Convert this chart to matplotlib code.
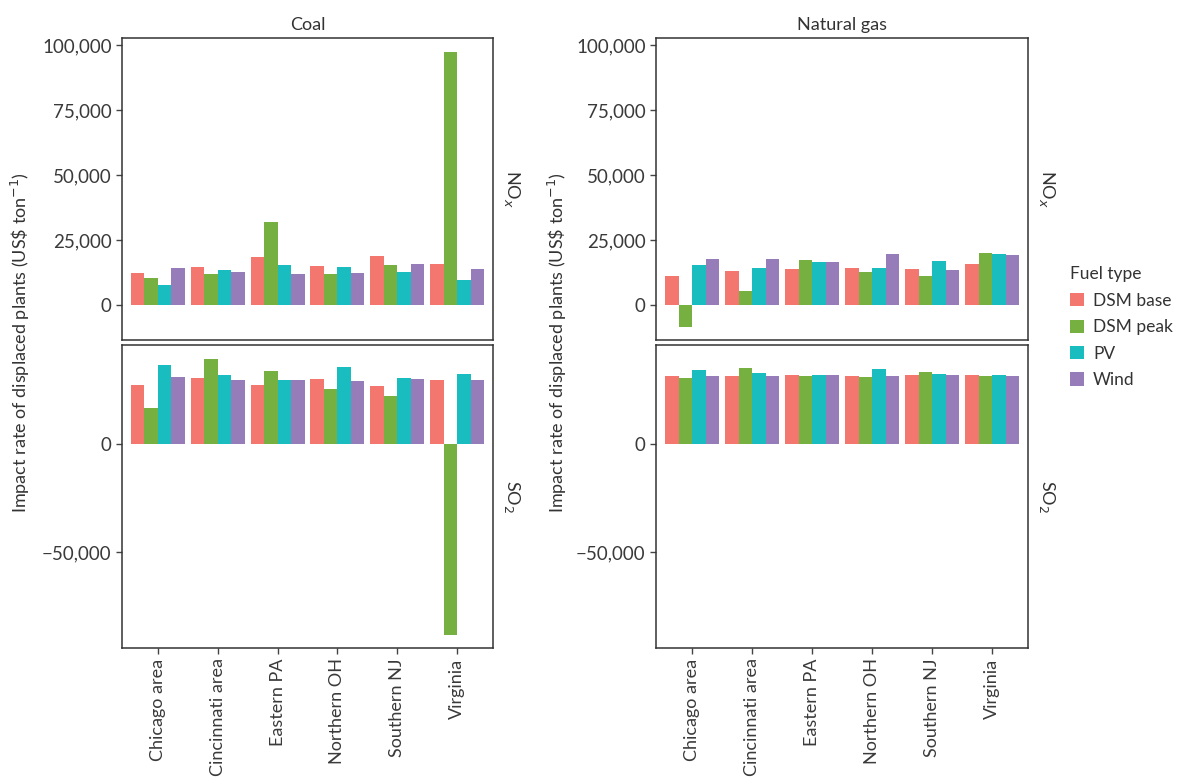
import numpy as np
import matplotlib
matplotlib.use("Agg")
from matplotlib import pyplot as plt
from matplotlib.patches import Patch
from matplotlib.ticker import FuncFormatter

plt.rcParams['font.family'] = ['Lato', 'DejaVu Sans']

regions = ['Chicago area', 'Cincinnati area', 'Eastern PA', 'Northern OH', 'Southern NJ', 'Virginia']
fuels = ['DSM base', 'DSM peak', 'PV', 'Wind']
colors = ['#F3776F', '#76B041', '#19BDBF', '#967CB8']

# US$ per ton, one list per fuel type (order of regions above)
coal_nox = [
    [12300, 14600, 18500, 15000, 18800, 15800],
    [10400, 11900, 31900, 11900, 15400, 97300],
    [7700, 13500, 15400, 14600, 12700, 9600],
    [14200, 12700, 11900, 12300, 15800, 13800],
]
coal_so2 = [
    [27300, 30600, 27300, 30100, 26900, 29600],
    [16700, 39400, 33800, 25500, 22200, -88400],
    [36600, 32000, 29600, 35700, 30600, 32400],
    [31000, 29600, 29600, 29200, 30100, 29600],
]
gas_nox = [
    [11200, 13100, 13800, 14200, 13800, 15800],
    [-8500, 5400, 17300, 12700, 11200, 20000],
    [15400, 14200, 16500, 14200, 16900, 19600],
    [17700, 17700, 16500, 19600, 13500, 19200],
]
gas_so2 = [
    [31500, 31500, 31900, 31500, 31900, 31900],
    [30600, 35200, 31500, 31000, 33300, 31500],
    [34300, 32900, 31900, 34700, 32400, 31900],
    [31500, 31500, 31900, 31500, 31900, 31500],
]

W, H = 1177, 777
fig = plt.figure(figsize=(W / 100, H / 100), dpi=100)

def box(x0, y0, x1, y1):
    return [x0 / W, 1 - y1 / H, (x1 - x0) / W, (y1 - y0) / H]

panels = [
    (box(122, 38, 493, 340), coal_nox, 'top', 0),
    (box(122, 345, 493, 648), coal_so2, 'bottom', 0),
    (box(656, 38, 1028, 340), gas_nox, 'top', 1),
    (box(656, 345, 1028, 648), gas_so2, 'bottom', 1),
]

grey = '#333333'
fmt = FuncFormatter(lambda v, p: '{:,.0f}'.format(v).replace('-', '\u2212'))
x = np.arange(1, len(regions) + 1)
bw = 0.9 / len(fuels)

for rect, data, row, col in panels:
    ax = fig.add_axes(rect)
    for i, vals in enumerate(data):
        ax.bar(x - 0.45 + bw * (i + 0.5), vals, width=bw, color=colors[i], linewidth=0)
    ax.set_xlim(0.4, 6.6)
    for s in ax.spines.values():
        s.set_color(grey)
        s.set_linewidth(1.1)
    ax.tick_params(axis='both', colors='#444444', labelcolor='#3a3a3a', labelsize=13.5,
                   length=4, width=1, direction='out')
    ax.yaxis.set_major_formatter(fmt)
    if row == 'top':
        ax.set_ylim(-13460, 102700)
        ax.set_yticks([0, 25000, 50000, 75000, 100000])
        ax.set_xticks([])
        ax.set_title(['Coal', 'Natural gas'][col], fontsize=13, color='#333333', pad=6)
        ax.text(1.05, 0.5, 'NO$_x$', transform=ax.transAxes, rotation=270,
                ha='center', va='center', fontsize=13, color='#333333')
    else:
        ax.set_ylim(-94450, 45840)
        ax.set_yticks([-50000, 0])
        ax.set_xticks(x)
        ax.set_xticklabels(regions, rotation=90, fontsize=13)
        ax.text(1.05, 0.5, 'SO$_2$', transform=ax.transAxes, rotation=270,
                ha='center', va='center', fontsize=13, color='#333333')

ylab = r'Impact rate of displaced plants (US\$ ton$^{-1}$)'
for xpos in (20, 557):
    fig.text(xpos / W, 1 - 343 / H, ylab, rotation=90, ha='center', va='center',
             fontsize=13, color='#333333')

handles = [Patch(facecolor=c, edgecolor='none') for c in colors]
leg = fig.legend(handles, fuels, title='Fuel type', loc='upper left',
                 bbox_to_anchor=(1060 / W, 1 - 256 / H), frameon=False,
                 fontsize=12.5, title_fontsize=12.5, handlelength=0.8, handleheight=0.8,
                 handletextpad=0.5, labelspacing=0.6, alignment='left',
                 borderaxespad=0.2)
for t in leg.get_texts():
    t.set_color('#333333')
leg.get_title().set_color('#333333')

fig.savefig('out.png', dpi=100)
